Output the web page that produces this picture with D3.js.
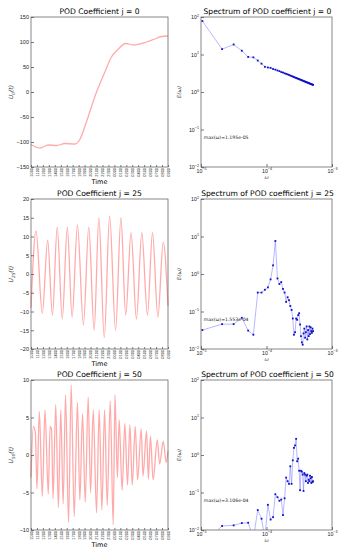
<!DOCTYPE html>
<html>
<head>
<meta charset="utf-8">
<script src="https://cdn.jsdelivr.net/npm/d3@7"></script>
<style>
  body { margin: 0; background: #fff; }
  svg { font-family: "DejaVu Sans", sans-serif; }
  .axis path, .axis line { stroke: #444; stroke-width: 0.7; }
  .axis text { fill: #222; }
</style>
</head>
<body>
<svg id="chart" width="340" height="550"></svg>
<script>
// time tick labels (hhmm)
const timeLabels = ["1000","1100","1200","1300","1400","1500","1600","1700","1800","1900","2000","2100",
  "2200","2300","0000","0100","0200","0300","0400","0500","0600","0700","0800","0900"];

// POD coefficients, sampled at (tick-index, value)
const coef0T = [0, 1.5, 2.9, 4.3, 5.7, 7.4, 8.2, 9.3, 11, 12.4, 13.5, 14.6, 15.9, 17.2, 19.4, 20.8, 21.9, 23];
const coef0V = [-105, -112, -106, -107, -103, -104, -95, -60, 0, 40, 70, 85, 97, 94, 100, 106, 111, 112];

const coef25T = [0, 0.84, 1.9, 2.8, 3.6, 4.4, 5.25, 6.1, 6.9, 7.8, 8.8, 9.7, 10.6, 11.4, 12.3, 13.2, 14.2,
  15.1, 15.9, 16.8, 17.7, 18.6, 19.55, 20.4, 21.3, 22.2, 23];
const coef25V = [-9, 11.5, -10.5, 9, -11, 12.5, -12, 12.5, -11.5, 13, -13.5, 12.5, -15, 15, -17, 15.5, -15,
  15, -11, 11, -12, 11, -11, 11, -11.5, 8.5, -8.5];

const coef50T = [0, 0.39, 0.73, 1.0, 1.4, 1.9, 2.35, 2.9, 3.2, 3.45, 3.7, 4.15, 4.6, 5.0, 5.4, 5.8, 6.3, 6.75,
  7.25, 7.8, 8.2, 8.65, 9.1, 9.6, 10.0, 10.45, 11.0, 11.45, 11.9, 12.35, 12.8, 13.3, 13.8, 14.1, 14.5, 14.8,
  15.3, 15.75, 16.2, 16.6, 17.0, 17.5, 17.9, 18.5, 18.8, 19.4, 19.7, 20.05, 20.5, 21.2, 21.6, 22.2, 22.7, 23];
const coef50V = [-3, 3.8, 3.0, -4.5, 5.8, -5.5, 6.0, -5.2, 3.8, 3.4, -5.8, 6.7, -7.0, 6.0, -6.5, 8.0, -9.0, 9.3,
  -8.2, 7.0, -6.0, 5.5, -6.3, 7.7, -5.0, 6.0, -7.7, 6.0, -7.3, 6.0, -6.7, 7.2, -9.3, 8.0, -3.0, 4.7,
  -4.7, 4.2, -4.0, 4.0, -4.0, 3.8, -3.3, 3.5, -2.8, 3.2, -3.2, 2.5, -3.3, 2.0, -1.2, 1.8, -1.0, 0.5];

// spectra: frequency grid and energies
const omega = [1.05e-5, 2.1e-5, 3.15e-5, 4.2e-5, 5.25e-5, 6.3e-5, 7.35e-5, 8.4e-5, 9.45e-5, 1.05e-4,
  1.155e-4, 1.26e-4, 1.365e-4, 1.47e-4, 1.575e-4, 1.68e-4, 1.785e-4, 1.89e-4, 1.995e-4, 2.1e-4,
  2.205e-4, 2.31e-4, 2.415e-4, 2.52e-4, 2.625e-4, 2.73e-4, 2.835e-4, 2.94e-4, 3.045e-4, 3.15e-4,
  3.255e-4, 3.36e-4, 3.465e-4, 3.57e-4, 3.675e-4, 3.78e-4, 3.885e-4, 3.99e-4, 4.095e-4, 4.2e-4,
  4.305e-4, 4.41e-4, 4.515e-4, 4.62e-4, 4.725e-4, 4.83e-4, 4.935e-4, 5.04e-4, 5.145e-4];
const spec0 = [78, 13.9, 18.5, 12.6, 8.6, 8.4, 6.9, 5.7, 4.7, 4.5, 4.4, 4.1, 3.95, 3.75, 3.6, 3.4, 3.3,
  3.15, 3.05, 2.95, 2.85, 2.75, 2.66, 2.58, 2.5, 2.43, 2.37, 2.31, 2.25, 2.2, 2.15, 2.1, 2.05, 2.01,
  1.97, 1.93, 1.89, 1.85, 1.82, 1.79, 1.76, 1.73, 1.7, 1.67, 1.64, 1.62, 1.6, 1.57, 1.55];
const spec25 = [0.032, 0.046, 0.046, 0.068, 0.031, 0.024, 0.32, 0.32, 0.38, 0.44, 0.72, 1.7, 7.6, 0.76,
  0.54, 0.61, 0.4, 0.32, 0.18, 0.24, 0.2, 0.14, 0.11, 0.065, 0.024, 0.028, 0.065, 0.06, 0.08, 0.09,
  0.045, 0.022, 0.015, 0.013, 0.026, 0.035, 0.02, 0.028, 0.04, 0.018, 0.032, 0.022, 0.04, 0.025,
  0.038, 0.03, 0.027, 0.035, 0.03];
const spec50 = [0.004, 0.0128, 0.0133, 0.0153, 0.0156, 0.006, 0.034, 0.02, 0.006, 0.047, 0.019, 0.022,
  0.09, 0.075, 0.06, 0.065, 0.025, 0.07, 0.25, 0.2, 0.17, 0.5, 0.17, 0.72, 1.55, 1.8, 2.7, 0.68, 0.8,
  0.38, 0.115, 0.38, 0.36, 0.3, 0.11, 0.33, 0.3, 0.2, 0.28, 0.3, 0.18, 0.22, 0.2, 0.28, 0.24, 0.18,
  0.26, 0.19, 0.2];

const modes = [0, 25, 50];
const maxOmega = ["1.195e-05", "1.553e-04", "3.106e-04"];
const yDomains = [[-150, 150], [-20, 20], [-10, 10]];
const yTicks = [[-150, -100, -50, 0, 50, 100, 150], [-20, -15, -10, -5, 0, 5, 10, 15, 20], [-10, -5, 0, 5, 10]];
const coefT = [coef0T, coef25T, coef50T];
const coefV = [coef0V, coef25V, coef50V];
const specV = [spec0, spec25, spec50];

let svg = d3.select("#chart"),
    rowTop = [17, 199, 380],
    plotH = 150,
    left = {x0: 31, x1: 168},
    right = {x0: 201, x1: 332};

function frame(g, x0, x1, y0, y1) {
  g.append("rect")
    .attr("x", x0).attr("y", y0)
    .attr("width", x1 - x0).attr("height", y1 - y0)
    .attr("fill", "none").attr("stroke", "#555").attr("stroke-width", 0.7);
}

function pow10(sel, fs) {
  sel.each(function(d) {
    let t = d3.select(this), e = Math.round(Math.log10(d));
    t.text("10");
    t.append("tspan").attr("dy", -2.5).attr("font-size", fs * 0.7).text(e < 0 ? "\u2212" + (-e) : e);
  });
}

modes.forEach((j, r) => {
  let y0 = rowTop[r], y1 = y0 + plotH;

  // ---- left: coefficient vs time
  let x = d3.scaleLinear().domain([0, timeLabels.length - 1]).range([left.x0, left.x1]),
      y = d3.scaleLinear().domain(yDomains[r]).range([y1, y0]);

  let g = svg.append("g");

  g.append("g")
    .attr("class", "axis")
    .attr("transform", "translate(0," + y1 + ")")
    .call(d3.axisBottom(x).tickValues(d3.range(timeLabels.length)).tickFormat(i => timeLabels[i]).tickSize(-2).tickPadding(1))
    .call(a => a.select(".domain").remove())
    .selectAll("text")
    .attr("font-size", 3.9)
    .attr("transform", "rotate(-90)")
    .attr("text-anchor", "end")
    .attr("dy", "0.35em")
    .attr("x", -1).attr("y", 0);

  g.append("g")
    .attr("class", "axis")
    .attr("transform", "translate(" + left.x0 + ",0)")
    .call(d3.axisLeft(y).tickValues(yTicks[r]).tickFormat(d => d < 0 ? "\u2212" + (-d) : d).tickSize(-3).tickPadding(2))
    .call(a => a.select(".domain").remove())
    .selectAll("text").attr("font-size", 5.5);

  let line = d3.line().x((d, i) => x(coefT[r][i])).y(d => y(d)).curve(d3.curveMonotoneX);
  g.append("path")
    .datum(coefV[r])
    .attr("d", line)
    .attr("fill", "none")
    .attr("stroke", "#ff2020")
    .attr("stroke-opacity", 0.38)
    .attr("stroke-width", 1.3);

  frame(g, left.x0, left.x1, y0, y1);

  g.append("text")
    .attr("x", (left.x0 + left.x1) / 2).attr("y", y0 - 3)
    .attr("text-anchor", "middle").attr("font-size", 7.6)
    .text("POD Coefficient j = " + j);

  g.append("text")
    .attr("x", (left.x0 + left.x1) / 2).attr("y", y1 + 17)
    .attr("text-anchor", "middle").attr("font-size", 6.5)
    .text("Time");

  let yl = g.append("text")
    .attr("transform", "translate(13," + (y0 + y1) / 2 + ") rotate(-90)")
    .attr("text-anchor", "middle").attr("font-size", 6)
    .attr("font-style", "italic").attr("fill", "#333");
  yl.append("tspan").text("U");
  yl.append("tspan").attr("font-size", 4.2).attr("dy", 1.5).text(j);
  yl.append("tspan").attr("dy", -1.5).text("(t)");

  // ---- right: spectrum, log-log
  let xs = d3.scaleLog().domain([1e-5, 1e-3]).range([right.x0, right.x1]),
      ys = d3.scaleLog().domain([1e-2, 1e2]).range([y1, y0]);

  let h = svg.append("g");

  h.append("g")
    .attr("class", "axis")
    .attr("transform", "translate(0," + y1 + ")")
    .call(d3.axisBottom(xs).tickValues([1e-5, 1e-4, 1e-3]).tickSize(-3).tickPadding(2))
    .call(a => a.select(".domain").remove())
    .selectAll("text").attr("font-size", 5.3).call(pow10, 5.3);

  h.append("g")
    .attr("class", "axis")
    .attr("transform", "translate(" + right.x0 + ",0)")
    .call(d3.axisLeft(ys).tickValues([1e-2, 1e-1, 1, 10, 100]).tickSize(-3).tickPadding(2))
    .call(a => a.select(".domain").remove())
    .selectAll("text").attr("font-size", 5.3).call(pow10, 5.3);

  h.append("clipPath").attr("id", "clip" + r)
    .append("rect").attr("x", right.x0).attr("y", y0)
    .attr("width", right.x1 - right.x0).attr("height", plotH);

  let pts = omega.map((w, i) => [w, specV[r][i]]);
  let sl = d3.line().x(d => xs(d[0])).y(d => ys(d[1]));
  let pg = h.append("g").attr("clip-path", "url(#clip" + r + ")");

  pg.append("path")
    .datum(pts)
    .attr("d", sl)
    .attr("fill", "none")
    .attr("stroke", "#6f6fff")
    .attr("stroke-opacity", 0.55)
    .attr("stroke-width", 0.9);

  pg.selectAll("rect.pt")
    .data(pts)
    .enter().append("rect")
    .attr("class", "pt")
    .attr("x", d => xs(d[0]) - 0.9)
    .attr("y", d => ys(d[1]) - 0.9)
    .attr("width", 1.8).attr("height", 1.8)
    .attr("fill", "#1010c8");

  frame(h, right.x0, right.x1, y0, y1);

  h.append("text")
    .attr("x", (right.x0 + right.x1) / 2 + 1).attr("y", y0 - 3)
    .attr("text-anchor", "middle").attr("font-size", 7.6)
    .text("Spectrum of POD coefficient j = " + j);

  h.append("text")
    .attr("x", xs(1.1e-5)).attr("y", ys(0.055))
    .attr("font-size", 4.6).attr("fill", "#222")
    .text("max(\u03c9)=" + maxOmega[r]);

  h.append("text")
    .attr("x", (right.x0 + right.x1) / 2).attr("y", y1 + 12)
    .attr("text-anchor", "middle").attr("font-size", 5).attr("font-style", "italic").attr("fill", "#444")
    .text("\u03c9");

  h.append("text")
    .attr("transform", "translate(181," + (y0 + y1) / 2 + ") rotate(-90)")
    .attr("text-anchor", "middle").attr("font-size", 5.5).attr("font-style", "italic").attr("fill", "#444")
    .text("E(\u03c9)");
});
</script>
</body>
</html>
